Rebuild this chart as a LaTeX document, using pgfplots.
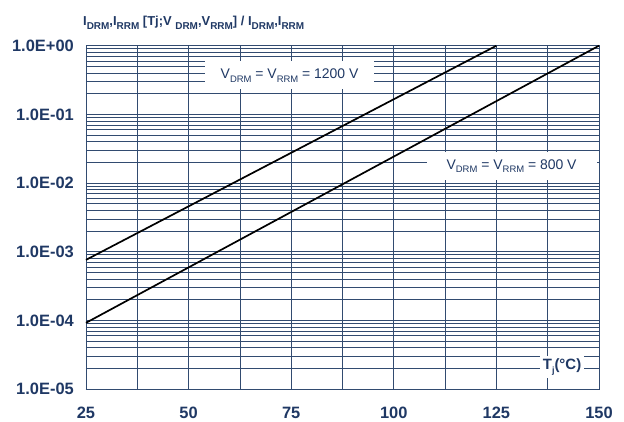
\documentclass[border=0pt]{standalone}
\usepackage{pgfplots}
\pgfplotsset{compat=1.18}
\usepackage{fontspec}
\setmainfont{Liberation Sans}
\definecolor{navy}{RGB}{31,56,100}
\definecolor{gridc}{RGB}{50,75,112}
\newcommand\sub[2]{\raisebox{-0.28em}{\fontsize{#1}{#1}\selectfont #2}}
\begin{document}
\begin{tikzpicture}
\begin{axis}[
 scale only axis, width=513bp, height=343.3bp,
 xmin=25, xmax=150, ymin=1e-5, ymax=1, ymode=log,
 xtick={25,50,75,100,125,150},
 minor xtick={37.5,62.5,87.5,112.5,137.5},
 ytick={1e-5,1e-4,1e-3,1e-2,1e-1,1},
 yticklabels={1.0E-05,1.0E-04,1.0E-03,1.0E-02,1.0E-01,1.0E+00},
 xticklabels={25,50,75,100,125,150},
 grid=both,
 major grid style={gridc, line width=0.8bp},
 minor grid style={gridc, line width=0.8bp},
 major tick length=0pt, minor tick length=0pt,
 axis line style={gridc, line width=0.9bp},
 ticklabel style={font=\fontsize{16.5}{18}\selectfont\bfseries, text=navy, inner sep=0pt},
 yticklabel style={xshift=-12bp},
 xticklabel style={yshift=-18bp},
 clip=false,
]
\addplot[black, line width=1.7bp] coordinates {(25,7.6e-4) (125,1)};
\addplot[black, line width=1.7bp] coordinates {(25,9.2e-5) (150,1)};
\node[fill=white, inner xsep=16bp, inner ysep=7bp, text=navy, font=\fontsize{14}{16}\selectfont]
  at (axis cs:74.6,0.372) {V\sub{9.5}{DRM} = V\sub{9.5}{RRM} = 1200 V};
\node[fill=white, inner xsep=20bp, inner ysep=7bp, text=navy, font=\fontsize{14}{16}\selectfont]
  at (axis cs:128.7,0.0176) {V\sub{9.5}{DRM} = V\sub{9.5}{RRM} = 800 V};
\node[fill=white, inner xsep=3bp, inner ysep=3bp, text=navy, font=\fontsize{15}{17}\selectfont\bfseries]
  at (axis cs:141,2.09e-5) {T\sub{9}{j}(°C)};
\node[anchor=base west, inner sep=0pt, text=navy, font=\fontsize{13}{15}\selectfont\bfseries]
  at ([xshift=-3bp, yshift=19.7bp]rel axis cs:0,1)
  {I\sub{10}{DRM},I\sub{10}{RRM} [Tj;V \sub{10}{DRM},V\sub{10}{RRM}] / I\sub{10}{DRM},I\sub{10}{RRM}};
\coordinate (bbsw) at ([xshift=-86bp, yshift=-33bp]rel axis cs:0,0);
\coordinate (bbne) at ([xshift=25bp, yshift=45.7bp]rel axis cs:1,1);
\end{axis}
\pgfresetboundingbox
\path (bbsw) rectangle (bbne);
\end{tikzpicture}
\end{document}
